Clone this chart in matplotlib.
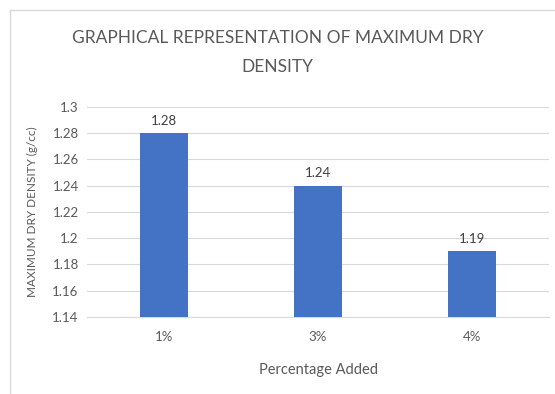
import matplotlib.pyplot as plt

# Maximum dry density for each percentage added
percentages = ['1%', '3%', '4%']
dry_density = [1.28, 1.24, 1.19]
y_ticks = [1.14, 1.16, 1.18, 1.2, 1.22, 1.24, 1.26, 1.28, 1.3]
y_tick_labels = ['1.14', '1.16', '1.18', '1.2', '1.22', '1.24', '1.26', '1.28', '1.3']

plt.rcParams['font.family'] = ['Lato', 'DejaVu Sans']
text_color = '#595959'

fig = plt.figure(figsize=(5.55, 3.94), dpi=100)
ax = fig.add_axes([87 / 555, 1 - 317 / 394, (549 - 87) / 555, (317 - 107) / 394])

x = range(len(percentages))
bars = ax.bar(x, dry_density, width=0.31, color='#4472C4', zorder=3)
for xi, v in zip(x, dry_density):
    ax.text(xi, v + 0.005, f'{v:.2f}', ha='center', va='bottom',
            fontsize=9.5, color='#404040')

ax.set_ylim(1.14, 1.3)
ax.set_xlim(-0.5, 2.5)
ax.set_yticks(y_ticks)
ax.set_yticklabels(y_tick_labels)
ax.set_xticks(list(x))
ax.set_xticklabels(percentages)
ax.tick_params(axis='both', length=0, labelsize=9.5, labelcolor=text_color)
ax.tick_params(axis='x', pad=10)
ax.tick_params(axis='y', pad=6)
ax.grid(axis='y', color='#d9d9d9', linewidth=0.8, zorder=0)
for side in ['top', 'right', 'left']:
    ax.spines[side].set_visible(False)
ax.spines['bottom'].set_color('#d9d9d9')

ax.set_xlabel('Percentage Added', fontsize=10.5, color=text_color)
ax.xaxis.set_label_coords(0.5, -0.22)
ax.set_ylabel('MAXIMUM DRY DENSITY (g/cc)', fontsize=8.5, color=text_color)
ax.yaxis.set_label_coords(-0.106, 0.5)

fig.text(0.5, 1 - 38 / 394, 'GRAPHICAL REPRESENTATION OF MAXIMUM DRY',
         ha='center', va='center', fontsize=12.5, color=text_color)
fig.text(0.5, 1 - 67 / 394, 'DENSITY',
         ha='center', va='center', fontsize=12.5, color=text_color)

# chart border along the top and left edges
fig.add_artist(plt.Line2D([10 / 555, 1], [1 - 10 / 394, 1 - 10 / 394],
                          color='#d9d9d9', linewidth=1, transform=fig.transFigure))
fig.add_artist(plt.Line2D([10 / 555, 10 / 555], [0, 1 - 10 / 394],
                          color='#d9d9d9', linewidth=1, transform=fig.transFigure))

fig.savefig('out.png', dpi=100)
